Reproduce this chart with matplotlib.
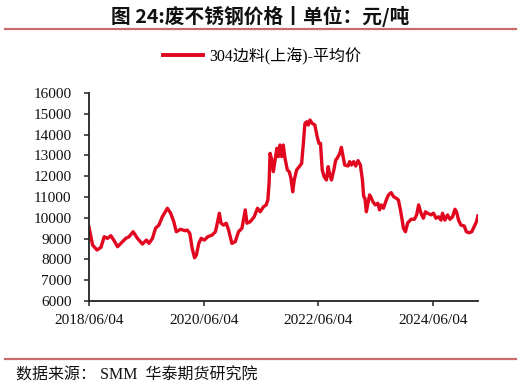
import matplotlib
matplotlib.use("Agg")
import matplotlib.pyplot as plt
from matplotlib.lines import Line2D
import pandas as pd

plt.rcParams['font.family'] = ['Liberation Serif', 'Noto Sans CJK SC', 'DejaVu Sans']

dates = [
    "2018-06-04", "2018-06-27", "2018-07-25", "2018-08-19", "2018-09-09", "2018-09-30",
    "2018-10-21", "2018-11-11", "2018-12-03", "2018-12-24", "2019-01-24", "2019-02-14",
    "2019-03-12", "2019-04-09", "2019-05-10", "2019-06-05", "2019-06-21", "2019-07-13",
    "2019-08-02", "2019-08-23", "2019-09-14", "2019-10-16", "2019-11-06", "2019-11-26",
    "2019-12-12", "2020-01-08", "2020-02-04", "2020-02-19", "2020-03-07", "2020-03-22",
    "2020-04-06", "2020-04-18", "2020-05-03", "2020-05-18", "2020-06-08", "2020-06-29",
    "2020-07-27", "2020-08-17", "2020-08-31", "2020-09-11", "2020-09-22", "2020-10-08",
    "2020-10-25", "2020-11-09", "2020-11-30", "2020-12-21", "2021-01-11", "2021-02-02",
    "2021-02-23", "2021-03-06", "2021-03-26", "2021-04-21", "2021-05-12", "2021-05-29",
    "2021-06-19", "2021-07-06", "2021-07-17", "2021-07-25", "2021-07-31", "2021-08-11",
    "2021-08-21", "2021-09-01", "2021-09-12", "2021-09-22", "2021-10-02", "2021-10-13",
    "2021-10-23", "2021-11-03", "2021-11-18", "2021-11-30", "2021-12-11", "2021-12-22",
    "2022-01-01", "2022-01-16", "2022-02-02", "2022-02-17", "2022-02-27", "2022-03-10",
    "2022-03-21", "2022-03-31", "2022-04-11", "2022-04-25", "2022-05-12", "2022-05-27",
    "2022-06-07", "2022-06-17", "2022-06-28", "2022-07-10", "2022-07-25", "2022-08-05",
    "2022-08-15", "2022-08-26", "2022-09-10", "2022-09-22", "2022-10-01", "2022-10-18",
    "2022-10-28", "2022-11-08", "2022-11-18", "2022-12-09", "2022-12-20", "2022-12-31",
    "2023-01-14", "2023-01-27", "2023-02-11", "2023-02-26", "2023-03-11", "2023-03-19",
    "2023-03-27", "2023-04-05", "2023-04-15", "2023-04-26", "2023-05-07", "2023-05-17",
    "2023-06-01", "2023-06-17", "2023-06-28", "2023-07-09", "2023-07-23", "2023-08-10",
    "2023-08-24", "2023-09-10", "2023-09-25", "2023-10-12", "2023-10-26", "2023-11-08",
    "2023-11-19", "2023-11-27", "2023-12-10", "2023-12-24", "2024-01-15", "2024-02-05",
    "2024-02-19", "2024-03-03", "2024-03-18", "2024-04-02", "2024-04-15", "2024-04-29",
    "2024-05-21", "2024-06-06", "2024-06-21", "2024-07-08", "2024-07-23", "2024-08-02",
    "2024-08-17", "2024-09-03", "2024-09-18", "2024-10-05", "2024-10-20", "2024-10-30",
    "2024-11-12", "2024-11-27", "2024-12-18", "2025-01-01", "2025-01-18", "2025-02-04",
    "2025-02-19", "2025-03-06", "2025-03-15",
]

prices = [
    9550, 8690, 8450, 8580, 9090, 9010,
    9140, 8900, 8610, 8770, 9010, 9090,
    9330, 9010, 8740, 8930, 8770, 9010,
    9500, 9650, 10050, 10460, 10220, 9810,
    9330, 9450, 9380, 9410, 9250, 8530,
    8080, 8210, 8770, 9010, 8930, 9090,
    9170, 9330, 9810, 10220, 9740, 9650,
    9740, 9410, 8770, 8850, 9330, 9500,
    10380, 9740, 9810, 10050, 10460, 10290,
    10530, 10620, 10860, 11700, 13100, 12780,
    12220, 12780, 13340, 12940, 13500, 12940,
    13500, 12860, 12300, 12220, 11900, 11250,
    11820, 12300, 12460, 12620, 13500, 14540,
    14620, 14460, 14700, 14540, 14460, 13900,
    13580, 13580, 12300, 11980, 11820, 12460,
    12060, 11820, 12300, 12780, 12860, 13100,
    13390, 12940, 12540, 12490, 12700, 12540,
    12700, 12490, 12750, 12540, 11820, 11020,
    10940, 10290, 10700, 11100, 10940, 10770,
    10620, 10700, 10380, 10620, 10460, 10860,
    11100, 11210, 11020, 10940, 10860, 10380,
    9890, 9500, 9330, 9750, 9930, 9930,
    10140, 10620, 10220, 9980, 10290, 10220,
    10140, 10220, 9980, 10050, 9890, 10220,
    9890, 10140, 9930, 10050, 10410, 10290,
    9890, 9650, 9610, 9330, 9280, 9330,
    9570, 9810, 10090,
]

series_label = "304边料(上海)-平均价"
title_text = "图 24:废不锈钢价格丨单位：元/吨"
source_text = "数据来源： SMM  华泰期货研究院"
xtick_dates = ["2018-06-04", "2020-06-04", "2022-06-04", "2024-06-04"]
ytick_values = list(range(6000, 16001, 1000))

x = pd.to_datetime(dates)

fig = plt.figure(figsize=(5.21, 3.88), dpi=100)
ax = fig.add_axes([0.1708, 0.2242, 0.7467, 0.5361])

red = '#e0071f'
ax.plot(x, prices, color=red, linewidth=2.4, solid_joinstyle='round')

ax.set_ylim(6000, 16000)
ax.set_xlim(pd.Timestamp("2018-06-04"), pd.Timestamp("2025-03-16"))
ax.set_yticks(ytick_values)
ax.set_yticklabels([str(v) for v in ytick_values])
xt = pd.to_datetime(xtick_dates)
ax.set_xticks(xt)
ax.set_xticklabels([d.strftime("%Y/%m/%d") for d in xt])

for s in ['top', 'right']:
    ax.spines[s].set_visible(False)
for s in ['left', 'bottom']:
    ax.spines[s].set_color('#222222')
    ax.spines[s].set_linewidth(1.3)

ax.tick_params(axis='y', direction='out', length=3.5, width=1.1, colors='#222222',
               pad=9, labelsize=11, labelcolor='#111111')
ax.tick_params(axis='x', direction='out', length=3.5, width=1.1, colors='#222222',
               pad=6, labelsize=11, labelcolor='#111111')

handle = Line2D([], [], color=red, linewidth=2.8)
fig.legend([handle], [series_label], loc='center', bbox_to_anchor=(0.503, 0.855),
           frameon=False, handlelength=2.5, handletextpad=0.35,
           prop={'family': ['Liberation Serif', 'Noto Sans CJK SC'], 'size': 11.5})

fig.text(0.5, 0.957, title_text, ha='center', va='center', fontsize=14.2, fontweight='bold',
         family=['Noto Sans CJK SC', 'DejaVu Sans'], color='#111111')

rule_color = '#c96b6b'
fig.add_artist(Line2D([0.01, 0.99], [1 - 29 / 388, 1 - 29 / 388], transform=fig.transFigure,
                      color=rule_color, linewidth=1.6))
fig.add_artist(Line2D([0.01, 0.99], [1 - 358.5 / 388, 1 - 358.5 / 388], transform=fig.transFigure,
                      color=rule_color, linewidth=1.6))

fig.text(0.031, 1 - 376 / 388, source_text, ha='left', va='center', fontsize=11.5,
         family=['Liberation Serif', 'Noto Sans CJK SC'], color='#111111')

fig.savefig("out.png", dpi=100)
